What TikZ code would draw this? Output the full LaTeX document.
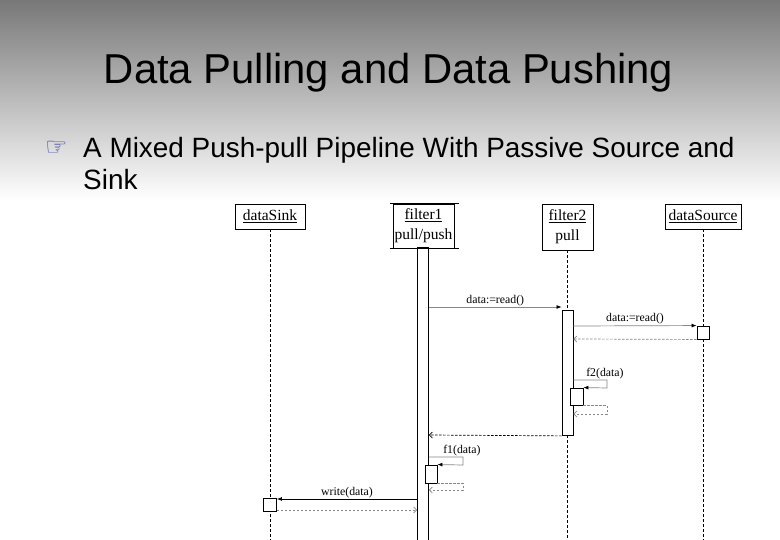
\documentclass[tikz,border=0pt]{standalone}
\usepackage{fontspec}
\setmainfont{Liberation Serif}
\newfontfamily\slidefont{Liberation Sans}
\newfontfamily\handfont{DejaVu Sans}
\usepackage{tikz}
\usepackage{xcolor}
\usetikzlibrary{arrows.meta,positioning}
\definecolor{msggray}{RGB}{135,135,135}
\definecolor{handblue}{RGB}{60,70,160}

\begin{document}
\begin{tikzpicture}[x=1pt, y=-1pt,
    objbox/.style={draw, line width=0.9pt, inner sep=0pt, align=center, font=\fontsize{15.5}{20}\selectfont},
    bar/.style={draw, fill=white, line width=0.9pt, inner sep=0pt, minimum width=11pt},
    lifeline/.style={line width=0.9pt, dash pattern=on 3pt off 2pt},
    call/.style={draw=msggray, line width=0.7pt, -{Latex[length=5pt,width=4pt,color=black]}},
    ret/.style={draw=msggray, line width=0.7pt, dash pattern=on 2.5pt off 1.5pt, -{Straight Barb[length=3pt,width=6pt]}},
    lbl/.style={font=\fontsize{11.8}{13}\selectfont, inner sep=0pt, above=1pt}]
    \shade[top color={rgb,255:red,120;green,120;blue,120}, bottom color=white] (0,0) rectangle (780,200);
    \fill[white] (0,200) rectangle (780,540);
    \useasboundingbox (0,0) rectangle (780,540);

    \node[font=\slidefont\fontsize{41.8}{50}\selectfont, anchor=base] (title) at (388.5,84) {Data Pulling and Data Pushing};
    \node[font=\handfont\fontsize{25}{26}\selectfont, text=handblue, anchor=base west, inner sep=0pt] (hand) at (45,156) {☞};
    \node[font=\slidefont\fontsize{27.9}{33}\selectfont, anchor=base west, inner sep=0pt] (line1) at (83,158) {A Mixed Push-pull Pipeline With Passive Source and};
    \node[font=\slidefont\fontsize{27.9}{33}\selectfont, anchor=base west, inner sep=0pt] (line2) at (83,190) {Sink};

    \node[objbox, minimum width=70pt, minimum height=25pt] (sink) at (270,216.5) {\underline{dataSink}};
    \node[objbox, minimum width=61pt, minimum height=44pt] (f1) at (423.5,226) {\underline{filter1}\\pull/push};
    \node[objbox, minimum width=51pt, minimum height=46pt] (f2) at (567.5,227) {\underline{filter2}\\pull};
    \node[objbox, minimum width=76pt, minimum height=25pt] (src) at (703,216.5) {\underline{dataSource}};
    \draw[line width=0.9pt] ([xshift=-3pt]f1.north west) -- ([xshift=5pt]f1.north east);
    \draw[line width=0.9pt] ([xshift=-3pt]f1.south west) -- ([xshift=5pt]f1.south east);

    \draw[lifeline] (sink.south) -- (sink.south |- 0,540);
    \draw[lifeline] (src.south) -- (src.south |- 0,540);
    \draw[lifeline] (f2.south) -- (f2.south |- 0,310);
    \draw[lifeline] (f2.south |- 0,435) -- (f2.south |- 0,540);

    \node[bar, minimum height=292pt, anchor=north] (f1bar) at (423,248) {};
    \draw[line width=2pt] (f1bar.north west) -- (f1bar.north east);
    \node[bar, minimum height=125pt, anchor=north] (f2bar) at (567.5,310) {};
    \node[bar, minimum width=12pt, minimum height=13pt] (srcact) at (703,332.5) {};
    \node[bar, minimum width=13pt, minimum height=13pt] (sinkact) at (270,504.5) {};
    \node[bar, minimum width=13pt, minimum height=17pt] (nest2) at (576.5,396.5) {};
    \node[bar, minimum width=12pt, minimum height=18pt] (nest1) at (431,474) {};

    \draw[call] (f1bar.east |- 0,307) -- node[lbl] {data:=read()} (f2bar.west |- 0,307);
    \draw[call] (f2bar.east |- 0,326) -- node[lbl] {data:=read()} (srcact.north west);
    \draw[ret] (srcact.south west) -- (f2bar.east |- 0,339);
    \draw[call] (f2bar.east |- 0,380) -| node[lbl, pos=0.47] {f2(data)} (607,388) -- (nest2.north east);
    \draw[ret] (nest2.south east) -| (607,414) -- (f2bar.east |- 0,414);
    \draw[ret, draw=black] (f2bar.south west) -- (f1bar.east |- 0,435);
    \draw[call] (f1bar.east |- 0,457) -| node[lbl, pos=0.485] {f1(data)} (463,465) -- (nest1.north east);
    \draw[ret] (nest1.south east) -| (463,490) -- (f1bar.east |- 0,490);
    \draw[call, draw=black] (f1bar.west |- 0,499) -- node[lbl] {write(data)} (sinkact.east |- 0,499);
    \draw[ret] (sinkact.east |- 0,510) -- (f1bar.west |- 0,510);
\end{tikzpicture}
\end{document}
